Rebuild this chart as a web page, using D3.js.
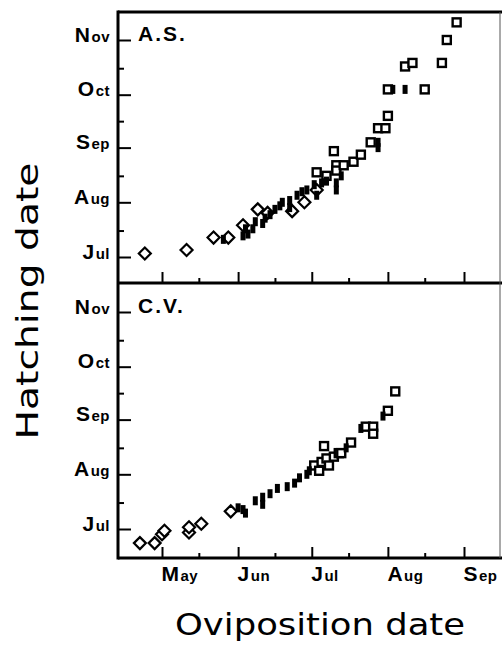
<!DOCTYPE html>
<html><head><meta charset="utf-8">
<script src="https://cdn.jsdelivr.net/npm/d3@7/dist/d3.min.js"></script>
<style>body{margin:0;background:#fff}svg{display:block}</style>
</head><body>
<svg id="c" width="502" height="645"></svg>
<script>
// ---- data: [oviposition date, hatching date] as "MM-DD" ----
const xMonthLabels = ["May", "Jun", "Jul", "Aug", "Sep"];
const yMonthLabels = ["Jul", "Aug", "Sep", "Oct", "Nov"];

const asDiamonds = [["04-24","07-03"],["05-11","07-05"],["05-22","07-12"],["05-28","07-12"],["06-03","07-19"],
  ["06-09","07-28"],["06-13","07-26"],["06-23","07-27"],["06-28","08-01"],["07-03","08-08"]];
const asSquares = [["07-03","08-18"],["07-07","08-16"],["07-10","08-30"],["07-11","08-22"],["07-11","08-19"],
  ["07-14","08-22"],["07-18","08-24"],["07-21","08-28"],["07-25","09-04"],["07-28","09-12"],["07-31","09-12"],
  ["08-01","09-19"],["08-01","10-04"],["08-08","10-17"],["08-11","10-19"],["08-16","10-04"],["08-23","10-19"],
  ["08-25","11-01"],["08-29","11-11"]];
const asFilled = [["05-26","07-11"],["06-03","07-13"],["06-05","07-14"],["06-04","07-17"],["06-07","07-17"],
  ["06-08","07-21"],["06-11","07-20"],["06-12","07-23"],["06-14","07-25"],["06-16","07-28"],["06-18","07-30"],
  ["06-19","08-01"],["06-22","08-02"],["06-22","07-29"],["06-25","08-05"],["06-27","08-07"],["06-29","08-08"],
  ["07-03","08-05"],["07-02","08-11"],["07-05","08-12"],["07-07","08-13"],["07-11","08-12"],["07-11","08-08"],
  ["07-13","08-16"],["07-28","09-04"],["07-28","09-01"],["08-03","10-04"],["08-08","10-04"]];

const cvDiamonds = [["04-22","06-23"],["04-28","06-23"],["05-01","06-28"],["05-02","06-30"],["05-12","06-29"],
  ["05-12","07-02"],["05-17","07-04"],["05-29","07-11"]];
const cvSquares = [["07-02","08-06"],["07-05","08-08"],["07-07","08-10"],["07-06","08-17"],["07-08","08-06"],
  ["07-10","08-11"],["07-12","08-13"],["07-13","08-13"],["07-17","08-19"],["07-23","08-28"],["07-26","08-28"],
  ["07-26","08-24"],["08-01","09-06"],["08-04","09-17"],["07-04","08-03"]];
const cvFilled = [["06-01","07-13"],["06-03","07-12"],["06-04","07-10"],["06-08","07-17"],["06-11","07-15"],
  ["06-11","07-19"],["06-14","07-21"],["06-17","07-24"],["06-21","07-25"],["06-24","07-27"],["06-26","07-30"],
  ["06-29","08-01"],["06-30","08-03"],["07-15","08-16"],["07-21","08-27"],["07-30","09-03"]];

// ---- rendering ----
const YEAR = 2001;
const parse = s => { const [m, d] = s.split("-").map(Number); return new Date(YEAR, m - 1, d); };
const svg = d3.select("#c");
const LEFT = 118, RIGHT = 500;
const FONT = "'Liberation Sans', Arial, sans-serif";
const TFONT = "'DejaVu Sans', sans-serif";

const x = d3.scaleTime().domain([parse("05-01"), parse("09-01")]).range([162, 464]);
const xMajor = xMonthLabels.map((m, i) => new Date(YEAR, 4 + i, 1));
const xMinor = xMonthLabels.slice(0, 4).map((m, i) => new Date(YEAR, 4 + i, 16));
const yMajor = yMonthLabels.map((m, i) => new Date(YEAR, 6 + i, 1));
const yMinor = yMonthLabels.slice(0, 4).map((m, i) => new Date(YEAR, 6 + i, 16));

function styledLabel(sel, text, big, small) {
  sel.text(null);
  sel.append("tspan").attr("font-size", big).text(text[0]);
  sel.append("tspan").attr("font-size", small).attr("dx", 1).text(text.slice(1));
}

const panels = [
  { label: "A.S.", top: 12, bottom: 283, yr: [257, 40], diamonds: asDiamonds, squares: asSquares, filled: asFilled, xlabels: false },
  { label: "C.V.", top: 283, bottom: 558, yr: [529, 312], diamonds: cvDiamonds, squares: cvSquares, filled: cvFilled, xlabels: true }
];

panels.forEach(p => {
  const y = d3.scaleTime().domain([parse("07-01"), parse("11-01")]).range(p.yr);
  const g = svg.append("g");

  const ya = g.append("g").attr("transform", `translate(${LEFT},0)`)
    .call(d3.axisLeft(y).tickValues(yMajor).tickSizeInner(-13).tickSizeOuter(0).tickPadding(8)
      .tickFormat((d, i) => yMonthLabels[i]));
  ya.select(".domain").remove();
  ya.selectAll(".tick line").attr("stroke", "#000").attr("stroke-width", 2);
  ya.selectAll(".tick text").attr("dy", "0").attr("y", 1)
    .attr("font-family", FONT).attr("font-weight", "bold").attr("fill", "#000").attr("letter-spacing", 0.5)
    .each(function(d, i) { styledLabel(d3.select(this), yMonthLabels[i], 21, 15); });
  const yb = g.append("g").attr("transform", `translate(${LEFT},0)`)
    .call(d3.axisLeft(y).tickValues(yMinor).tickSizeInner(-6).tickSizeOuter(0).tickFormat(""));
  yb.select(".domain").remove();
  yb.selectAll(".tick line").attr("stroke", "#000").attr("stroke-width", 2);

  const xa = g.append("g").attr("transform", `translate(0,${p.bottom})`)
    .call(d3.axisBottom(x).tickValues(xMajor).tickSizeInner(-11).tickSizeOuter(0)
      .tickFormat((d, i) => p.xlabels ? xMonthLabels[i] : ""));
  xa.select(".domain").remove();
  xa.selectAll(".tick line").attr("stroke", "#000").attr("stroke-width", 2);
  if (p.xlabels) {
    xa.selectAll(".tick text").attr("dy", "0").attr("y", 23).attr("x", -1)
      .attr("text-anchor", "start").attr("font-family", FONT).attr("font-weight", "bold").attr("fill", "#000")
      .attr("letter-spacing", 0.5)
      .each(function(d, i) { styledLabel(d3.select(this), xMonthLabels[i], 21, 15); });
  } else {
    xa.selectAll(".tick text").remove();
  }
  const xb = g.append("g").attr("transform", `translate(0,${p.bottom})`)
    .call(d3.axisBottom(x).tickValues(xMinor).tickSizeInner(-5).tickSizeOuter(0).tickFormat(""));
  xb.select(".domain").remove();
  xb.selectAll(".tick line").attr("stroke", "#000").attr("stroke-width", 2);

  g.append("text").attr("x", 138).attr("y", y(parse("11-01")) + 1)
    .attr("font-family", FONT).attr("font-weight", "bold").attr("font-size", 21)
    .attr("letter-spacing", 2).attr("fill", "#000").text(p.label);

  g.selectAll("rect.sq").data(p.squares).join("rect").attr("class", "sq")
    .attr("x", d => x(parse(d[0])) - 4).attr("y", d => y(parse(d[1])) - 4)
    .attr("width", 8).attr("height", 8)
    .attr("fill", "#fff").attr("stroke", "#000").attr("stroke-width", 2.4);
  g.selectAll("path.dm").data(p.diamonds).join("path").attr("class", "dm")
    .attr("transform", d => `translate(${x(parse(d[0]))},${y(parse(d[1]))})`)
    .attr("d", "M0,-6L6,0L0,6L-6,0Z")
    .attr("fill", "#fff").attr("stroke", "#000").attr("stroke-width", 2.2);
  g.selectAll("rect.fl").data(p.filled).join("rect").attr("class", "fl")
    .attr("x", d => x(parse(d[0])) - 2.5).attr("y", d => y(parse(d[1])) - 4.5)
    .attr("width", 5).attr("height", 9).attr("fill", "#000");
});

const frame = svg.append("g").attr("stroke", "#000").attr("fill", "none");
frame.append("line").attr("x1", LEFT).attr("x2", 502).attr("y1", 12).attr("y2", 12).attr("stroke-width", 3);
frame.append("line").attr("x1", LEFT).attr("x2", 502).attr("y1", 283).attr("y2", 283).attr("stroke-width", 3);
frame.append("line").attr("x1", LEFT).attr("x2", 502).attr("y1", 558).attr("y2", 558).attr("stroke-width", 3);
frame.append("line").attr("x1", LEFT).attr("x2", LEFT).attr("y1", 10.5).attr("y2", 559.5).attr("stroke-width", 3);
frame.append("line").attr("x1", RIGHT).attr("x2", RIGHT).attr("y1", 12).attr("y2", 558).attr("stroke-width", 1).attr("stroke", "#555");

svg.append("text").attr("transform", "translate(38,301) rotate(-90)")
  .attr("text-anchor", "middle").attr("font-family", TFONT).attr("font-size", 31)
  .attr("textLength", 277).attr("lengthAdjust", "spacingAndGlyphs").attr("fill", "#000").text("Hatching date");
svg.append("text").attr("x", 320).attr("y", 635)
  .attr("text-anchor", "middle").attr("font-family", TFONT).attr("font-size", 31)
  .attr("textLength", 290).attr("lengthAdjust", "spacingAndGlyphs").attr("fill", "#000").text("Oviposition date");
</script>
</body></html>
